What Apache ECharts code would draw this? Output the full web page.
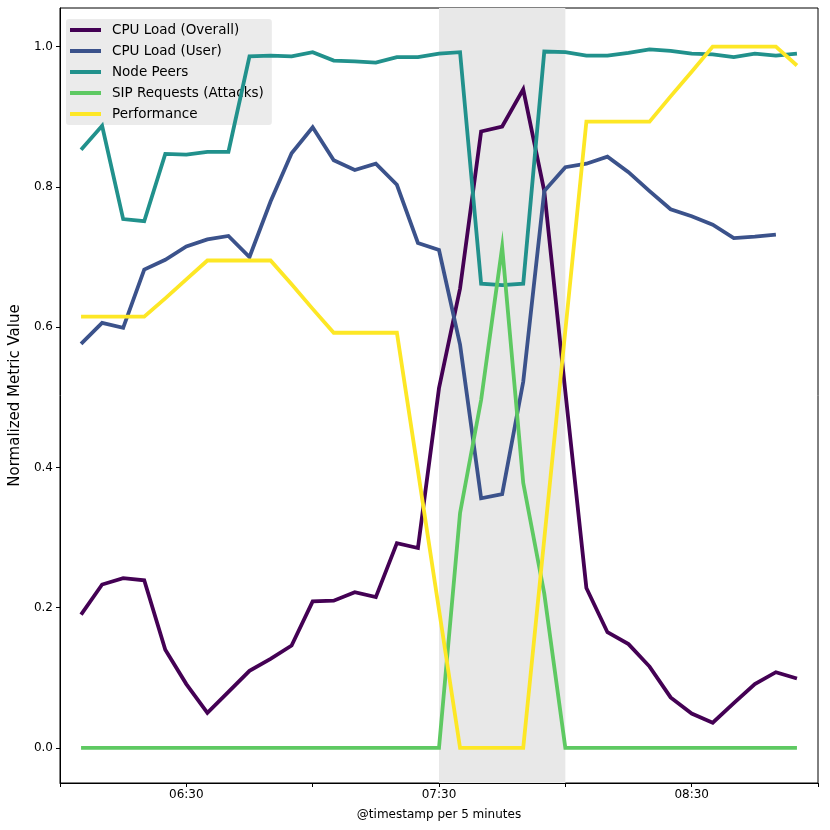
<!DOCTYPE html>
<html>
<head>
<meta charset="utf-8">
<script src="https://cdn.jsdelivr.net/npm/echarts@6/dist/echarts.min.js"></script>
<style>
html, body { margin: 0; padding: 0; background: #fff; }
#chart { width: 830px; height: 830px; }
</style>
</head>
<body>
<div id="chart"></div>
<script>
// 5-minute buckets
var times = ['06:05','06:10','06:15','06:20','06:25','06:30','06:35','06:40','06:45','06:50','06:55',
	'07:00','07:05','07:10','07:15','07:20','07:25','07:30','07:35','07:40','07:45','07:50','07:55',
	'08:00','08:05','08:10','08:15','08:20','08:25','08:30','08:35','08:40','08:45','08:50','08:55'];

var cpuOverall = [0.190,0.233,0.242,0.239,0.140,0.091,0.050,0.080,0.110,0.127,0.146,
	0.209,0.210,0.222,0.215,0.292,0.285,0.513,0.655,0.879,0.886,0.939,0.794,
	0.508,0.228,0.165,0.148,0.116,0.072,0.049,0.036,0.064,0.091,0.108,0.099];

var cpuUser = [0.576,0.606,0.599,0.682,0.696,0.715,0.725,0.730,0.700,0.779,0.848,
	0.885,0.838,0.824,0.833,0.803,0.720,0.710,0.575,0.356,0.362,0.522,0.794,
	0.828,0.833,0.843,0.821,0.794,0.768,0.758,0.746,0.727,0.729,0.732,'-'];

var nodePeers = [0.853,0.887,0.754,0.751,0.847,0.846,0.850,0.850,0.986,0.987,0.986,
	0.992,0.980,0.979,0.977,0.985,0.985,0.990,0.992,0.662,0.660,0.662,0.993,
	0.992,0.987,0.987,0.991,0.996,0.994,0.990,0.989,0.985,0.990,0.987,0.990];

var sipRequests = [0,0,0,0,0,0,0,0,0,0,0,
	0,0,0,0,0,0,0,0.335,0.496,0.714,0.378,0.220,
	0,0,0,0,0,0,0,0,0,0,0,0];

var performance = [0.615,0.615,0.615,0.615,0.641,0.668,0.695,0.695,0.695,0.695,0.661,
	0.626,0.592,0.592,0.592,0.592,0.395,0.197,0,0,0,0,0.298,
	0.595,0.893,0.893,0.893,0.893,0.929,0.964,1.0,1.0,1.0,1.0,0.973];

var attackWindow = ['07:30', '08:00'];
var xTickLabels = ['06:30', '07:30', '08:30'];

var seriesNames = ['CPU Load (Overall)', 'CPU Load (User)', 'Node Peers', 'SIP Requests (Attacks)', 'Performance'];
var seriesColors = ['#440154', '#3b528b', '#21918c', '#5ec962', '#fde725'];

function toMin(t) {
	var p = t.split(':');
	return parseInt(p[0], 10) * 60 + parseInt(p[1], 10);
}
function fmtMin(m) {
	var h = Math.floor(m / 60), mm = m % 60;
	return (h < 10 ? '0' : '') + h + ':' + (mm < 10 ? '0' : '') + mm;
}
function pairs(values) {
	var out = [];
	for (var i = 0; i < times.length; i++) {
		out.push([toMin(times[i]), values[i]]);
	}
	return out;
}

var font = 'DejaVu Sans';
var allValues = [cpuOverall, cpuUser, nodePeers, sipRequests, performance];
var series = [];
for (var i = 0; i < seriesNames.length; i++) {
	var s = {
		name: seriesNames[i],
		type: 'line',
		data: pairs(allValues[i]),
		showSymbol: false,
		symbol: 'none',
		connectNulls: false,
		color: seriesColors[i],
		lineStyle: { width: 3.8, color: seriesColors[i], cap: 'butt', join: 'miter' },
		z: 3 + i
	};
	if (i === 0) {
		s.markArea = {
			silent: true,
			itemStyle: { color: '#e8e8e8' },
			data: [[{ xAxis: toMin(attackWindow[0]) }, { xAxis: toMin(attackWindow[1]) }]]
		};
	}
	series.push(s);
}

var dom = document.getElementById('chart');
var myChart = echarts.init(dom, null, { renderer: 'canvas' });

var option = {
	animation: false,
	backgroundColor: '#ffffff',
	textStyle: { fontFamily: font },
	grid: {
		left: 60, right: 12, top: 8, bottom: 47,
		show: true, borderColor: '#000', borderWidth: 1, backgroundColor: 'transparent'
	},
	legend: {
		orient: 'vertical',
		left: 66, top: 19,
		itemWidth: 31, itemHeight: 4,
		itemGap: 5,
		icon: 'rect',
		backgroundColor: 'rgba(232,232,232,0.88)',
		borderRadius: 3,
		padding: [3, 8, 3, 4],
		textStyle: { fontFamily: font, fontSize: 13.5, color: '#000', padding: [0, 0, 0, 6], lineHeight: 16 },
		data: seriesNames
	},
	xAxis: {
		type: 'value',
		min: 360, max: 540, interval: 30,
		name: '@timestamp per 5 minutes',
		nameLocation: 'middle',
		nameGap: 26,
		nameTextStyle: { fontFamily: font, fontSize: 12, color: '#000' },
		axisLine: { show: true, onZero: false, lineStyle: { color: '#000', width: 1 } },
		axisTick: { show: true, length: 4, lineStyle: { color: '#000' } },
		axisLabel: {
			fontFamily: font, fontSize: 12, color: '#000', margin: 6,
			showMinLabel: true, showMaxLabel: true,
			formatter: function (v) {
				var t = fmtMin(v);
				return xTickLabels.indexOf(t) >= 0 ? t : '';
			}
		},
		splitLine: { show: false }
	},
	yAxis: {
		type: 'value',
		min: -0.05, max: 1.055,
		splitNumber: 5,
		name: 'Normalized Metric Value',
		nameLocation: 'middle',
		nameGap: 36,
		nameTextStyle: { fontFamily: font, fontSize: 15, color: '#000' },
		axisLine: { show: true, onZero: false, lineStyle: { color: '#000', width: 1 } },
		axisTick: { show: true, length: 4, lineStyle: { color: '#000' } },
		axisLabel: {
			fontFamily: font, fontSize: 12, color: '#000', margin: 7,
			showMinLabel: false, showMaxLabel: false,
			formatter: function (v) { return v.toFixed(1); }
		},
		splitLine: { show: false }
	},
	series: series
};

if (option && typeof option === 'object') {
	myChart.setOption(option, true);
}
</script>
</body>
</html>
